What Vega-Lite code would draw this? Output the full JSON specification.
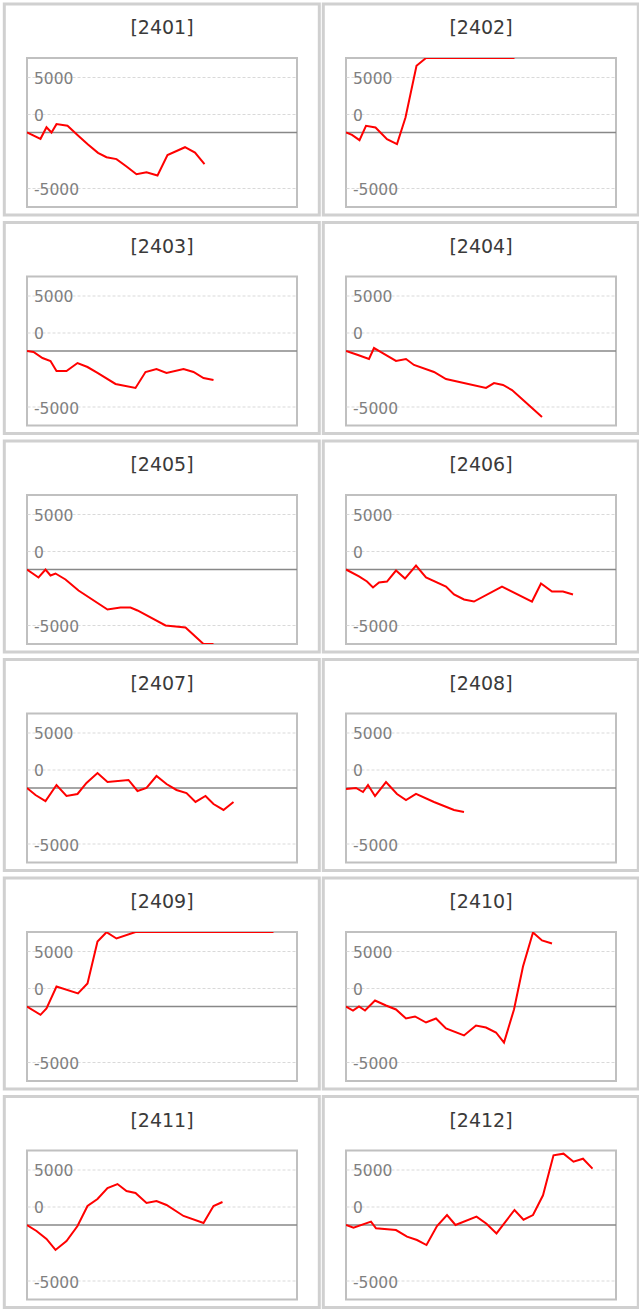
{
  "$schema": "https://vega.github.io/schema/vega-lite/v6.json",
  "padding": {"left": 1, "top": 1, "right": 0, "bottom": 0},
  "background": "white",
  "columns": 2,
  "spacing": {"row": 1.5, "column": -2},
  "datasets": {
    "pnl": [
      {"p": "2401", "t": 0, "v": 0}, {"p": "2401", "t": 2.7, "v": -680}, {"p": "2401", "t": 3.9, "v": 570}, {"p": "2401", "t": 4.9, "v": 0}, {"p": "2401", "t": 5.9, "v": 900}, {"p": "2401", "t": 8.1, "v": 720}, {"p": "2401", "t": 10.2, "v": -320}, {"p": "2401", "t": 12.2, "v": -1290}, {"p": "2401", "t": 14.2, "v": -2180}, {"p": "2401", "t": 15.9, "v": -2650}, {"p": "2401", "t": 17.9, "v": -2860}, {"p": "2401", "t": 19.9, "v": -3650}, {"p": "2401", "t": 21.9, "v": -4480}, {"p": "2401", "t": 23.9, "v": -4260}, {"p": "2401", "t": 26.1, "v": -4620}, {"p": "2401", "t": 28.1, "v": -2430}, {"p": "2401", "t": 31.6, "v": -1580}, {"p": "2401", "t": 33.6, "v": -2150}, {"p": "2401", "t": 35.5, "v": -3400},
      {"p": "2402", "t": 0, "v": 0}, {"p": "2402", "t": 1.2, "v": -250}, {"p": "2402", "t": 2.7, "v": -820}, {"p": "2402", "t": 4.0, "v": 720}, {"p": "2402", "t": 5.9, "v": 540}, {"p": "2402", "t": 8.2, "v": -720}, {"p": "2402", "t": 10.2, "v": -1250}, {"p": "2402", "t": 11.9, "v": 1610}, {"p": "2402", "t": 14.1, "v": 7160}, {"p": "2402", "t": 16.0, "v": 8000}, {"p": "2402", "t": 33.7, "v": 8000},
      {"p": "2403", "t": 0, "v": 0}, {"p": "2403", "t": 1.3, "v": -100}, {"p": "2403", "t": 3.1, "v": -750}, {"p": "2403", "t": 4.7, "v": -1070}, {"p": "2403", "t": 5.9, "v": -2150}, {"p": "2403", "t": 7.9, "v": -2150}, {"p": "2403", "t": 10.1, "v": -1290}, {"p": "2403", "t": 12.1, "v": -1720}, {"p": "2403", "t": 14.1, "v": -2360}, {"p": "2403", "t": 17.7, "v": -3540}, {"p": "2403", "t": 21.7, "v": -3970}, {"p": "2403", "t": 23.7, "v": -2255}, {"p": "2403", "t": 25.9, "v": -1930}, {"p": "2403", "t": 27.9, "v": -2360}, {"p": "2403", "t": 31.3, "v": -1930}, {"p": "2403", "t": 33.3, "v": -2255}, {"p": "2403", "t": 35.3, "v": -2900}, {"p": "2403", "t": 37.3, "v": -3110},
      {"p": "2404", "t": 0, "v": 0}, {"p": "2404", "t": 2.4, "v": -430}, {"p": "2404", "t": 4.6, "v": -860}, {"p": "2404", "t": 5.6, "v": 320}, {"p": "2404", "t": 7.0, "v": -110}, {"p": "2404", "t": 10.0, "v": -1070}, {"p": "2404", "t": 12.0, "v": -860}, {"p": "2404", "t": 13.6, "v": -1500}, {"p": "2404", "t": 17.6, "v": -2255}, {"p": "2404", "t": 20.0, "v": -3010}, {"p": "2404", "t": 28.0, "v": -3970}, {"p": "2404", "t": 29.6, "v": -3440}, {"p": "2404", "t": 31.4, "v": -3650}, {"p": "2404", "t": 33.2, "v": -4190}, {"p": "2404", "t": 35.2, "v": -5150}, {"p": "2404", "t": 37.2, "v": -6120}, {"p": "2404", "t": 39.2, "v": -7090},
      {"p": "2405", "t": 0, "v": 0}, {"p": "2405", "t": 2.3, "v": -860}, {"p": "2405", "t": 3.7, "v": 0}, {"p": "2405", "t": 4.7, "v": -640}, {"p": "2405", "t": 5.7, "v": -430}, {"p": "2405", "t": 7.7, "v": -1070}, {"p": "2405", "t": 10.3, "v": -2255}, {"p": "2405", "t": 16.1, "v": -4300}, {"p": "2405", "t": 18.7, "v": -4080}, {"p": "2405", "t": 20.7, "v": -4080}, {"p": "2405", "t": 22.1, "v": -4400}, {"p": "2405", "t": 27.7, "v": -6010}, {"p": "2405", "t": 31.7, "v": -6230}, {"p": "2405", "t": 35.3, "v": -8000}, {"p": "2405", "t": 37.3, "v": -8000},
      {"p": "2406", "t": 0, "v": 0}, {"p": "2406", "t": 2.6, "v": -750}, {"p": "2406", "t": 4.2, "v": -1290}, {"p": "2406", "t": 5.4, "v": -1930}, {"p": "2406", "t": 6.6, "v": -1400}, {"p": "2406", "t": 8.2, "v": -1290}, {"p": "2406", "t": 10.0, "v": -110}, {"p": "2406", "t": 11.8, "v": -970}, {"p": "2406", "t": 14.0, "v": 430}, {"p": "2406", "t": 16.0, "v": -860}, {"p": "2406", "t": 20.0, "v": -1830}, {"p": "2406", "t": 21.6, "v": -2680}, {"p": "2406", "t": 23.6, "v": -3220}, {"p": "2406", "t": 25.6, "v": -3440}, {"p": "2406", "t": 31.2, "v": -1830}, {"p": "2406", "t": 37.2, "v": -3440}, {"p": "2406", "t": 39.0, "v": -1500}, {"p": "2406", "t": 41.2, "v": -2360}, {"p": "2406", "t": 43.4, "v": -2360}, {"p": "2406", "t": 45.4, "v": -2680},
      {"p": "2407", "t": 0, "v": 0}, {"p": "2407", "t": 1.7, "v": -750}, {"p": "2407", "t": 3.7, "v": -1400}, {"p": "2407", "t": 5.9, "v": 320}, {"p": "2407", "t": 7.9, "v": -860}, {"p": "2407", "t": 10.1, "v": -640}, {"p": "2407", "t": 11.9, "v": 540}, {"p": "2407", "t": 14.1, "v": 1610}, {"p": "2407", "t": 16.1, "v": 640}, {"p": "2407", "t": 20.3, "v": 860}, {"p": "2407", "t": 22.1, "v": -320}, {"p": "2407", "t": 23.9, "v": 0}, {"p": "2407", "t": 25.9, "v": 1290}, {"p": "2407", "t": 27.9, "v": 430}, {"p": "2407", "t": 29.9, "v": -210}, {"p": "2407", "t": 31.9, "v": -540}, {"p": "2407", "t": 33.7, "v": -1500}, {"p": "2407", "t": 35.7, "v": -860}, {"p": "2407", "t": 37.3, "v": -1720}, {"p": "2407", "t": 39.3, "v": -2360}, {"p": "2407", "t": 41.3, "v": -1500},
      {"p": "2408", "t": 0, "v": -110}, {"p": "2408", "t": 2.0, "v": 0}, {"p": "2408", "t": 3.4, "v": -430}, {"p": "2408", "t": 4.4, "v": 320}, {"p": "2408", "t": 5.8, "v": -860}, {"p": "2408", "t": 8.0, "v": 640}, {"p": "2408", "t": 10.2, "v": -640}, {"p": "2408", "t": 12.0, "v": -1290}, {"p": "2408", "t": 14.0, "v": -640}, {"p": "2408", "t": 17.6, "v": -1500}, {"p": "2408", "t": 21.6, "v": -2360}, {"p": "2408", "t": 23.6, "v": -2580},
      {"p": "2409", "t": 0, "v": 0}, {"p": "2409", "t": 2.7, "v": -895}, {"p": "2409", "t": 3.9, "v": -215}, {"p": "2409", "t": 5.9, "v": 2150}, {"p": "2409", "t": 10.2, "v": 1400}, {"p": "2409", "t": 12.1, "v": 2470}, {"p": "2409", "t": 14.1, "v": 6980}, {"p": "2409", "t": 15.9, "v": 7980}, {"p": "2409", "t": 17.9, "v": 7300}, {"p": "2409", "t": 21.7, "v": 8000}, {"p": "2409", "t": 49.3, "v": 8000},
      {"p": "2410", "t": 0, "v": 0}, {"p": "2410", "t": 1.4, "v": -430}, {"p": "2410", "t": 2.6, "v": 0}, {"p": "2410", "t": 3.8, "v": -430}, {"p": "2410", "t": 5.8, "v": 640}, {"p": "2410", "t": 8.0, "v": 110}, {"p": "2410", "t": 10.0, "v": -320}, {"p": "2410", "t": 12.0, "v": -1290}, {"p": "2410", "t": 13.8, "v": -1070}, {"p": "2410", "t": 16.0, "v": -1720}, {"p": "2410", "t": 18.0, "v": -1290}, {"p": "2410", "t": 20.0, "v": -2360}, {"p": "2410", "t": 23.6, "v": -3110}, {"p": "2410", "t": 26.0, "v": -2040}, {"p": "2410", "t": 28.0, "v": -2255}, {"p": "2410", "t": 30.0, "v": -2790}, {"p": "2410", "t": 31.6, "v": -3870}, {"p": "2410", "t": 33.6, "v": -320}, {"p": "2410", "t": 35.4, "v": 4300}, {"p": "2410", "t": 37.4, "v": 7950}, {"p": "2410", "t": 39.2, "v": 7090}, {"p": "2410", "t": 41.2, "v": 6760},
      {"p": "2411", "t": 0, "v": 0}, {"p": "2411", "t": 1.9, "v": -640}, {"p": "2411", "t": 3.9, "v": -1500}, {"p": "2411", "t": 5.7, "v": -2680}, {"p": "2411", "t": 7.9, "v": -1720}, {"p": "2411", "t": 10.1, "v": -110}, {"p": "2411", "t": 12.1, "v": 2040}, {"p": "2411", "t": 14.1, "v": 2790}, {"p": "2411", "t": 16.1, "v": 3970}, {"p": "2411", "t": 18.1, "v": 4400}, {"p": "2411", "t": 19.9, "v": 3650}, {"p": "2411", "t": 21.7, "v": 3440}, {"p": "2411", "t": 23.9, "v": 2360}, {"p": "2411", "t": 25.9, "v": 2580}, {"p": "2411", "t": 27.9, "v": 2150}, {"p": "2411", "t": 31.3, "v": 970}, {"p": "2411", "t": 35.3, "v": 210}, {"p": "2411", "t": 37.3, "v": 2040}, {"p": "2411", "t": 39.1, "v": 2470},
      {"p": "2412", "t": 0, "v": 0}, {"p": "2412", "t": 1.5, "v": -290}, {"p": "2412", "t": 5.0, "v": 360}, {"p": "2412", "t": 6.0, "v": -360}, {"p": "2412", "t": 10.0, "v": -540}, {"p": "2412", "t": 12.2, "v": -1250}, {"p": "2412", "t": 14.2, "v": -1610}, {"p": "2412", "t": 16.1, "v": -2150}, {"p": "2412", "t": 18.2, "v": -110}, {"p": "2412", "t": 20.2, "v": 1070}, {"p": "2412", "t": 21.9, "v": 0}, {"p": "2412", "t": 26.1, "v": 900}, {"p": "2412", "t": 28.1, "v": 140}, {"p": "2412", "t": 30.1, "v": -900}, {"p": "2412", "t": 33.7, "v": 1610}, {"p": "2412", "t": 35.5, "v": 570}, {"p": "2412", "t": 37.4, "v": 1070}, {"p": "2412", "t": 39.4, "v": 3190}, {"p": "2412", "t": 41.5, "v": 7480}, {"p": "2412", "t": 43.5, "v": 7660}, {"p": "2412", "t": 45.5, "v": 6800}, {"p": "2412", "t": 47.4, "v": 7120}, {"p": "2412", "t": 49.3, "v": 6050}
    ]
  },
  "config": {
    "view": {"stroke": "#c0c0c0", "strokeWidth": 2},
    "title": {"font": "DejaVu Sans", "fontSize": 19, "fontWeight": "normal", "color": "#3a3a3a", "offset": -36, "baseline": "alphabetic", "anchor": "middle"},
    "axisY": {"ticks": false, "domain": false, "grid": true, "gridColor": "#d9d9d9", "gridDash": [3, 2], "gridWidth": 1, "labelAlign": "left", "labelPadding": -6.5, "labelBaseline": "middle", "labelOffset": 1.5, "labelFont": "DejaVu Sans", "labelFontSize": 15.5, "labelColor": "#808080", "labelFlush": false, "labelOverlap": false, "labelBound": false}
  },
  "concat": [
    {"width": 270, "height": 149, "title": "[2401]", "resolve": {"axis": {"y": "independent"}}, "layer": [
      {"data": {"values": [{}]}, "mark": {"type": "rect", "filled": false, "stroke": "#d0d0d0", "strokeWidth": 3}, "encoding": {"x": {"datum": -4.54, "type": "quantitative", "scale": {"domain": [0, 54], "nice": false, "zero": false}, "axis": null}, "x2": {"datum": 58.46}, "y": {"datum": 13800, "type": "quantitative", "scale": {"domain": [-8000, 8000], "nice": false, "zero": false}, "axis": {"title": null, "orient": "left", "values": [-6000, 2000, 6000], "labelExpr": "datum.value == 6000 ? '5000' : datum.value == 2000 ? '0' : '-5000'"}}, "y2": {"datum": -8860}}},
      {"data": {"values": [{}]}, "mark": {"type": "rule", "color": "#888888", "strokeWidth": 1.5}, "encoding": {"y": {"datum": 0, "type": "quantitative", "axis": null}}},
      {"data": {"name": "pnl"}, "transform": [{"filter": "datum.p == '2401'"}], "mark": {"type": "line", "color": "#ff0000", "strokeWidth": 2, "clip": true}, "encoding": {"x": {"field": "t", "type": "quantitative", "axis": null}, "y": {"field": "v", "type": "quantitative", "axis": {"title": null, "orient": "right", "values": [-4000, -2000, 0, 4000], "labels": false}}}}
    ]},
    {"width": 270, "height": 149, "title": "[2402]", "resolve": {"axis": {"y": "independent"}}, "layer": [
      {"data": {"values": [{}]}, "mark": {"type": "rect", "filled": false, "stroke": "#d0d0d0", "strokeWidth": 3}, "encoding": {"x": {"datum": -4.54, "type": "quantitative", "scale": {"domain": [0, 54], "nice": false, "zero": false}, "axis": null}, "x2": {"datum": 58.46}, "y": {"datum": 13800, "type": "quantitative", "scale": {"domain": [-8000, 8000], "nice": false, "zero": false}, "axis": {"title": null, "orient": "left", "values": [-6000, 2000, 6000], "labelExpr": "datum.value == 6000 ? '5000' : datum.value == 2000 ? '0' : '-5000'"}}, "y2": {"datum": -8860}}},
      {"data": {"values": [{}]}, "mark": {"type": "rule", "color": "#888888", "strokeWidth": 1.5}, "encoding": {"y": {"datum": 0, "type": "quantitative", "axis": null}}},
      {"data": {"name": "pnl"}, "transform": [{"filter": "datum.p == '2402'"}], "mark": {"type": "line", "color": "#ff0000", "strokeWidth": 2, "clip": true}, "encoding": {"x": {"field": "t", "type": "quantitative", "axis": null}, "y": {"field": "v", "type": "quantitative", "axis": {"title": null, "orient": "right", "values": [-4000, -2000, 0, 4000], "labels": false}}}}
    ]},
    {"width": 270, "height": 149, "title": "[2403]", "resolve": {"axis": {"y": "independent"}}, "layer": [
      {"data": {"values": [{}]}, "mark": {"type": "rect", "filled": false, "stroke": "#d0d0d0", "strokeWidth": 3}, "encoding": {"x": {"datum": -4.54, "type": "quantitative", "scale": {"domain": [0, 54], "nice": false, "zero": false}, "axis": null}, "x2": {"datum": 58.46}, "y": {"datum": 13800, "type": "quantitative", "scale": {"domain": [-8000, 8000], "nice": false, "zero": false}, "axis": {"title": null, "orient": "left", "values": [-6000, 2000, 6000], "labelExpr": "datum.value == 6000 ? '5000' : datum.value == 2000 ? '0' : '-5000'"}}, "y2": {"datum": -8860}}},
      {"data": {"values": [{}]}, "mark": {"type": "rule", "color": "#888888", "strokeWidth": 1.5}, "encoding": {"y": {"datum": 0, "type": "quantitative", "axis": null}}},
      {"data": {"name": "pnl"}, "transform": [{"filter": "datum.p == '2403'"}], "mark": {"type": "line", "color": "#ff0000", "strokeWidth": 2, "clip": true}, "encoding": {"x": {"field": "t", "type": "quantitative", "axis": null}, "y": {"field": "v", "type": "quantitative", "axis": {"title": null, "orient": "right", "values": [-4000, -2000, 0, 4000], "labels": false}}}}
    ]},
    {"width": 270, "height": 149, "title": "[2404]", "resolve": {"axis": {"y": "independent"}}, "layer": [
      {"data": {"values": [{}]}, "mark": {"type": "rect", "filled": false, "stroke": "#d0d0d0", "strokeWidth": 3}, "encoding": {"x": {"datum": -4.54, "type": "quantitative", "scale": {"domain": [0, 54], "nice": false, "zero": false}, "axis": null}, "x2": {"datum": 58.46}, "y": {"datum": 13800, "type": "quantitative", "scale": {"domain": [-8000, 8000], "nice": false, "zero": false}, "axis": {"title": null, "orient": "left", "values": [-6000, 2000, 6000], "labelExpr": "datum.value == 6000 ? '5000' : datum.value == 2000 ? '0' : '-5000'"}}, "y2": {"datum": -8860}}},
      {"data": {"values": [{}]}, "mark": {"type": "rule", "color": "#888888", "strokeWidth": 1.5}, "encoding": {"y": {"datum": 0, "type": "quantitative", "axis": null}}},
      {"data": {"name": "pnl"}, "transform": [{"filter": "datum.p == '2404'"}], "mark": {"type": "line", "color": "#ff0000", "strokeWidth": 2, "clip": true}, "encoding": {"x": {"field": "t", "type": "quantitative", "axis": null}, "y": {"field": "v", "type": "quantitative", "axis": {"title": null, "orient": "right", "values": [-4000, -2000, 0, 4000], "labels": false}}}}
    ]},
    {"width": 270, "height": 149, "title": "[2405]", "resolve": {"axis": {"y": "independent"}}, "layer": [
      {"data": {"values": [{}]}, "mark": {"type": "rect", "filled": false, "stroke": "#d0d0d0", "strokeWidth": 3}, "encoding": {"x": {"datum": -4.54, "type": "quantitative", "scale": {"domain": [0, 54], "nice": false, "zero": false}, "axis": null}, "x2": {"datum": 58.46}, "y": {"datum": 13800, "type": "quantitative", "scale": {"domain": [-8000, 8000], "nice": false, "zero": false}, "axis": {"title": null, "orient": "left", "values": [-6000, 2000, 6000], "labelExpr": "datum.value == 6000 ? '5000' : datum.value == 2000 ? '0' : '-5000'"}}, "y2": {"datum": -8860}}},
      {"data": {"values": [{}]}, "mark": {"type": "rule", "color": "#888888", "strokeWidth": 1.5}, "encoding": {"y": {"datum": 0, "type": "quantitative", "axis": null}}},
      {"data": {"name": "pnl"}, "transform": [{"filter": "datum.p == '2405'"}], "mark": {"type": "line", "color": "#ff0000", "strokeWidth": 2, "clip": true}, "encoding": {"x": {"field": "t", "type": "quantitative", "axis": null}, "y": {"field": "v", "type": "quantitative", "axis": {"title": null, "orient": "right", "values": [-4000, -2000, 0, 4000], "labels": false}}}}
    ]},
    {"width": 270, "height": 149, "title": "[2406]", "resolve": {"axis": {"y": "independent"}}, "layer": [
      {"data": {"values": [{}]}, "mark": {"type": "rect", "filled": false, "stroke": "#d0d0d0", "strokeWidth": 3}, "encoding": {"x": {"datum": -4.54, "type": "quantitative", "scale": {"domain": [0, 54], "nice": false, "zero": false}, "axis": null}, "x2": {"datum": 58.46}, "y": {"datum": 13800, "type": "quantitative", "scale": {"domain": [-8000, 8000], "nice": false, "zero": false}, "axis": {"title": null, "orient": "left", "values": [-6000, 2000, 6000], "labelExpr": "datum.value == 6000 ? '5000' : datum.value == 2000 ? '0' : '-5000'"}}, "y2": {"datum": -8860}}},
      {"data": {"values": [{}]}, "mark": {"type": "rule", "color": "#888888", "strokeWidth": 1.5}, "encoding": {"y": {"datum": 0, "type": "quantitative", "axis": null}}},
      {"data": {"name": "pnl"}, "transform": [{"filter": "datum.p == '2406'"}], "mark": {"type": "line", "color": "#ff0000", "strokeWidth": 2, "clip": true}, "encoding": {"x": {"field": "t", "type": "quantitative", "axis": null}, "y": {"field": "v", "type": "quantitative", "axis": {"title": null, "orient": "right", "values": [-4000, -2000, 0, 4000], "labels": false}}}}
    ]},
    {"width": 270, "height": 149, "title": "[2407]", "resolve": {"axis": {"y": "independent"}}, "layer": [
      {"data": {"values": [{}]}, "mark": {"type": "rect", "filled": false, "stroke": "#d0d0d0", "strokeWidth": 3}, "encoding": {"x": {"datum": -4.54, "type": "quantitative", "scale": {"domain": [0, 54], "nice": false, "zero": false}, "axis": null}, "x2": {"datum": 58.46}, "y": {"datum": 13800, "type": "quantitative", "scale": {"domain": [-8000, 8000], "nice": false, "zero": false}, "axis": {"title": null, "orient": "left", "values": [-6000, 2000, 6000], "labelExpr": "datum.value == 6000 ? '5000' : datum.value == 2000 ? '0' : '-5000'"}}, "y2": {"datum": -8860}}},
      {"data": {"values": [{}]}, "mark": {"type": "rule", "color": "#888888", "strokeWidth": 1.5}, "encoding": {"y": {"datum": 0, "type": "quantitative", "axis": null}}},
      {"data": {"name": "pnl"}, "transform": [{"filter": "datum.p == '2407'"}], "mark": {"type": "line", "color": "#ff0000", "strokeWidth": 2, "clip": true}, "encoding": {"x": {"field": "t", "type": "quantitative", "axis": null}, "y": {"field": "v", "type": "quantitative", "axis": {"title": null, "orient": "right", "values": [-4000, -2000, 0, 4000], "labels": false}}}}
    ]},
    {"width": 270, "height": 149, "title": "[2408]", "resolve": {"axis": {"y": "independent"}}, "layer": [
      {"data": {"values": [{}]}, "mark": {"type": "rect", "filled": false, "stroke": "#d0d0d0", "strokeWidth": 3}, "encoding": {"x": {"datum": -4.54, "type": "quantitative", "scale": {"domain": [0, 54], "nice": false, "zero": false}, "axis": null}, "x2": {"datum": 58.46}, "y": {"datum": 13800, "type": "quantitative", "scale": {"domain": [-8000, 8000], "nice": false, "zero": false}, "axis": {"title": null, "orient": "left", "values": [-6000, 2000, 6000], "labelExpr": "datum.value == 6000 ? '5000' : datum.value == 2000 ? '0' : '-5000'"}}, "y2": {"datum": -8860}}},
      {"data": {"values": [{}]}, "mark": {"type": "rule", "color": "#888888", "strokeWidth": 1.5}, "encoding": {"y": {"datum": 0, "type": "quantitative", "axis": null}}},
      {"data": {"name": "pnl"}, "transform": [{"filter": "datum.p == '2408'"}], "mark": {"type": "line", "color": "#ff0000", "strokeWidth": 2, "clip": true}, "encoding": {"x": {"field": "t", "type": "quantitative", "axis": null}, "y": {"field": "v", "type": "quantitative", "axis": {"title": null, "orient": "right", "values": [-4000, -2000, 0, 4000], "labels": false}}}}
    ]},
    {"width": 270, "height": 149, "title": "[2409]", "resolve": {"axis": {"y": "independent"}}, "layer": [
      {"data": {"values": [{}]}, "mark": {"type": "rect", "filled": false, "stroke": "#d0d0d0", "strokeWidth": 3}, "encoding": {"x": {"datum": -4.54, "type": "quantitative", "scale": {"domain": [0, 54], "nice": false, "zero": false}, "axis": null}, "x2": {"datum": 58.46}, "y": {"datum": 13800, "type": "quantitative", "scale": {"domain": [-8000, 8000], "nice": false, "zero": false}, "axis": {"title": null, "orient": "left", "values": [-6000, 2000, 6000], "labelExpr": "datum.value == 6000 ? '5000' : datum.value == 2000 ? '0' : '-5000'"}}, "y2": {"datum": -8860}}},
      {"data": {"values": [{}]}, "mark": {"type": "rule", "color": "#888888", "strokeWidth": 1.5}, "encoding": {"y": {"datum": 0, "type": "quantitative", "axis": null}}},
      {"data": {"name": "pnl"}, "transform": [{"filter": "datum.p == '2409'"}], "mark": {"type": "line", "color": "#ff0000", "strokeWidth": 2, "clip": true}, "encoding": {"x": {"field": "t", "type": "quantitative", "axis": null}, "y": {"field": "v", "type": "quantitative", "axis": {"title": null, "orient": "right", "values": [-4000, -2000, 0, 4000], "labels": false}}}}
    ]},
    {"width": 270, "height": 149, "title": "[2410]", "resolve": {"axis": {"y": "independent"}}, "layer": [
      {"data": {"values": [{}]}, "mark": {"type": "rect", "filled": false, "stroke": "#d0d0d0", "strokeWidth": 3}, "encoding": {"x": {"datum": -4.54, "type": "quantitative", "scale": {"domain": [0, 54], "nice": false, "zero": false}, "axis": null}, "x2": {"datum": 58.46}, "y": {"datum": 13800, "type": "quantitative", "scale": {"domain": [-8000, 8000], "nice": false, "zero": false}, "axis": {"title": null, "orient": "left", "values": [-6000, 2000, 6000], "labelExpr": "datum.value == 6000 ? '5000' : datum.value == 2000 ? '0' : '-5000'"}}, "y2": {"datum": -8860}}},
      {"data": {"values": [{}]}, "mark": {"type": "rule", "color": "#888888", "strokeWidth": 1.5}, "encoding": {"y": {"datum": 0, "type": "quantitative", "axis": null}}},
      {"data": {"name": "pnl"}, "transform": [{"filter": "datum.p == '2410'"}], "mark": {"type": "line", "color": "#ff0000", "strokeWidth": 2, "clip": true}, "encoding": {"x": {"field": "t", "type": "quantitative", "axis": null}, "y": {"field": "v", "type": "quantitative", "axis": {"title": null, "orient": "right", "values": [-4000, -2000, 0, 4000], "labels": false}}}}
    ]},
    {"width": 270, "height": 149, "title": "[2411]", "resolve": {"axis": {"y": "independent"}}, "layer": [
      {"data": {"values": [{}]}, "mark": {"type": "rect", "filled": false, "stroke": "#d0d0d0", "strokeWidth": 3}, "encoding": {"x": {"datum": -4.54, "type": "quantitative", "scale": {"domain": [0, 54], "nice": false, "zero": false}, "axis": null}, "x2": {"datum": 58.46}, "y": {"datum": 13800, "type": "quantitative", "scale": {"domain": [-8000, 8000], "nice": false, "zero": false}, "axis": {"title": null, "orient": "left", "values": [-6000, 2000, 6000], "labelExpr": "datum.value == 6000 ? '5000' : datum.value == 2000 ? '0' : '-5000'"}}, "y2": {"datum": -8860}}},
      {"data": {"values": [{}]}, "mark": {"type": "rule", "color": "#888888", "strokeWidth": 1.5}, "encoding": {"y": {"datum": 0, "type": "quantitative", "axis": null}}},
      {"data": {"name": "pnl"}, "transform": [{"filter": "datum.p == '2411'"}], "mark": {"type": "line", "color": "#ff0000", "strokeWidth": 2, "clip": true}, "encoding": {"x": {"field": "t", "type": "quantitative", "axis": null}, "y": {"field": "v", "type": "quantitative", "axis": {"title": null, "orient": "right", "values": [-4000, -2000, 0, 4000], "labels": false}}}}
    ]},
    {"width": 270, "height": 149, "title": "[2412]", "resolve": {"axis": {"y": "independent"}}, "layer": [
      {"data": {"values": [{}]}, "mark": {"type": "rect", "filled": false, "stroke": "#d0d0d0", "strokeWidth": 3}, "encoding": {"x": {"datum": -4.54, "type": "quantitative", "scale": {"domain": [0, 54], "nice": false, "zero": false}, "axis": null}, "x2": {"datum": 58.46}, "y": {"datum": 13800, "type": "quantitative", "scale": {"domain": [-8000, 8000], "nice": false, "zero": false}, "axis": {"title": null, "orient": "left", "values": [-6000, 2000, 6000], "labelExpr": "datum.value == 6000 ? '5000' : datum.value == 2000 ? '0' : '-5000'"}}, "y2": {"datum": -8860}}},
      {"data": {"values": [{}]}, "mark": {"type": "rule", "color": "#888888", "strokeWidth": 1.5}, "encoding": {"y": {"datum": 0, "type": "quantitative", "axis": null}}},
      {"data": {"name": "pnl"}, "transform": [{"filter": "datum.p == '2412'"}], "mark": {"type": "line", "color": "#ff0000", "strokeWidth": 2, "clip": true}, "encoding": {"x": {"field": "t", "type": "quantitative", "axis": null}, "y": {"field": "v", "type": "quantitative", "axis": {"title": null, "orient": "right", "values": [-4000, -2000, 0, 4000], "labels": false}}}}
    ]}
  ]
}
